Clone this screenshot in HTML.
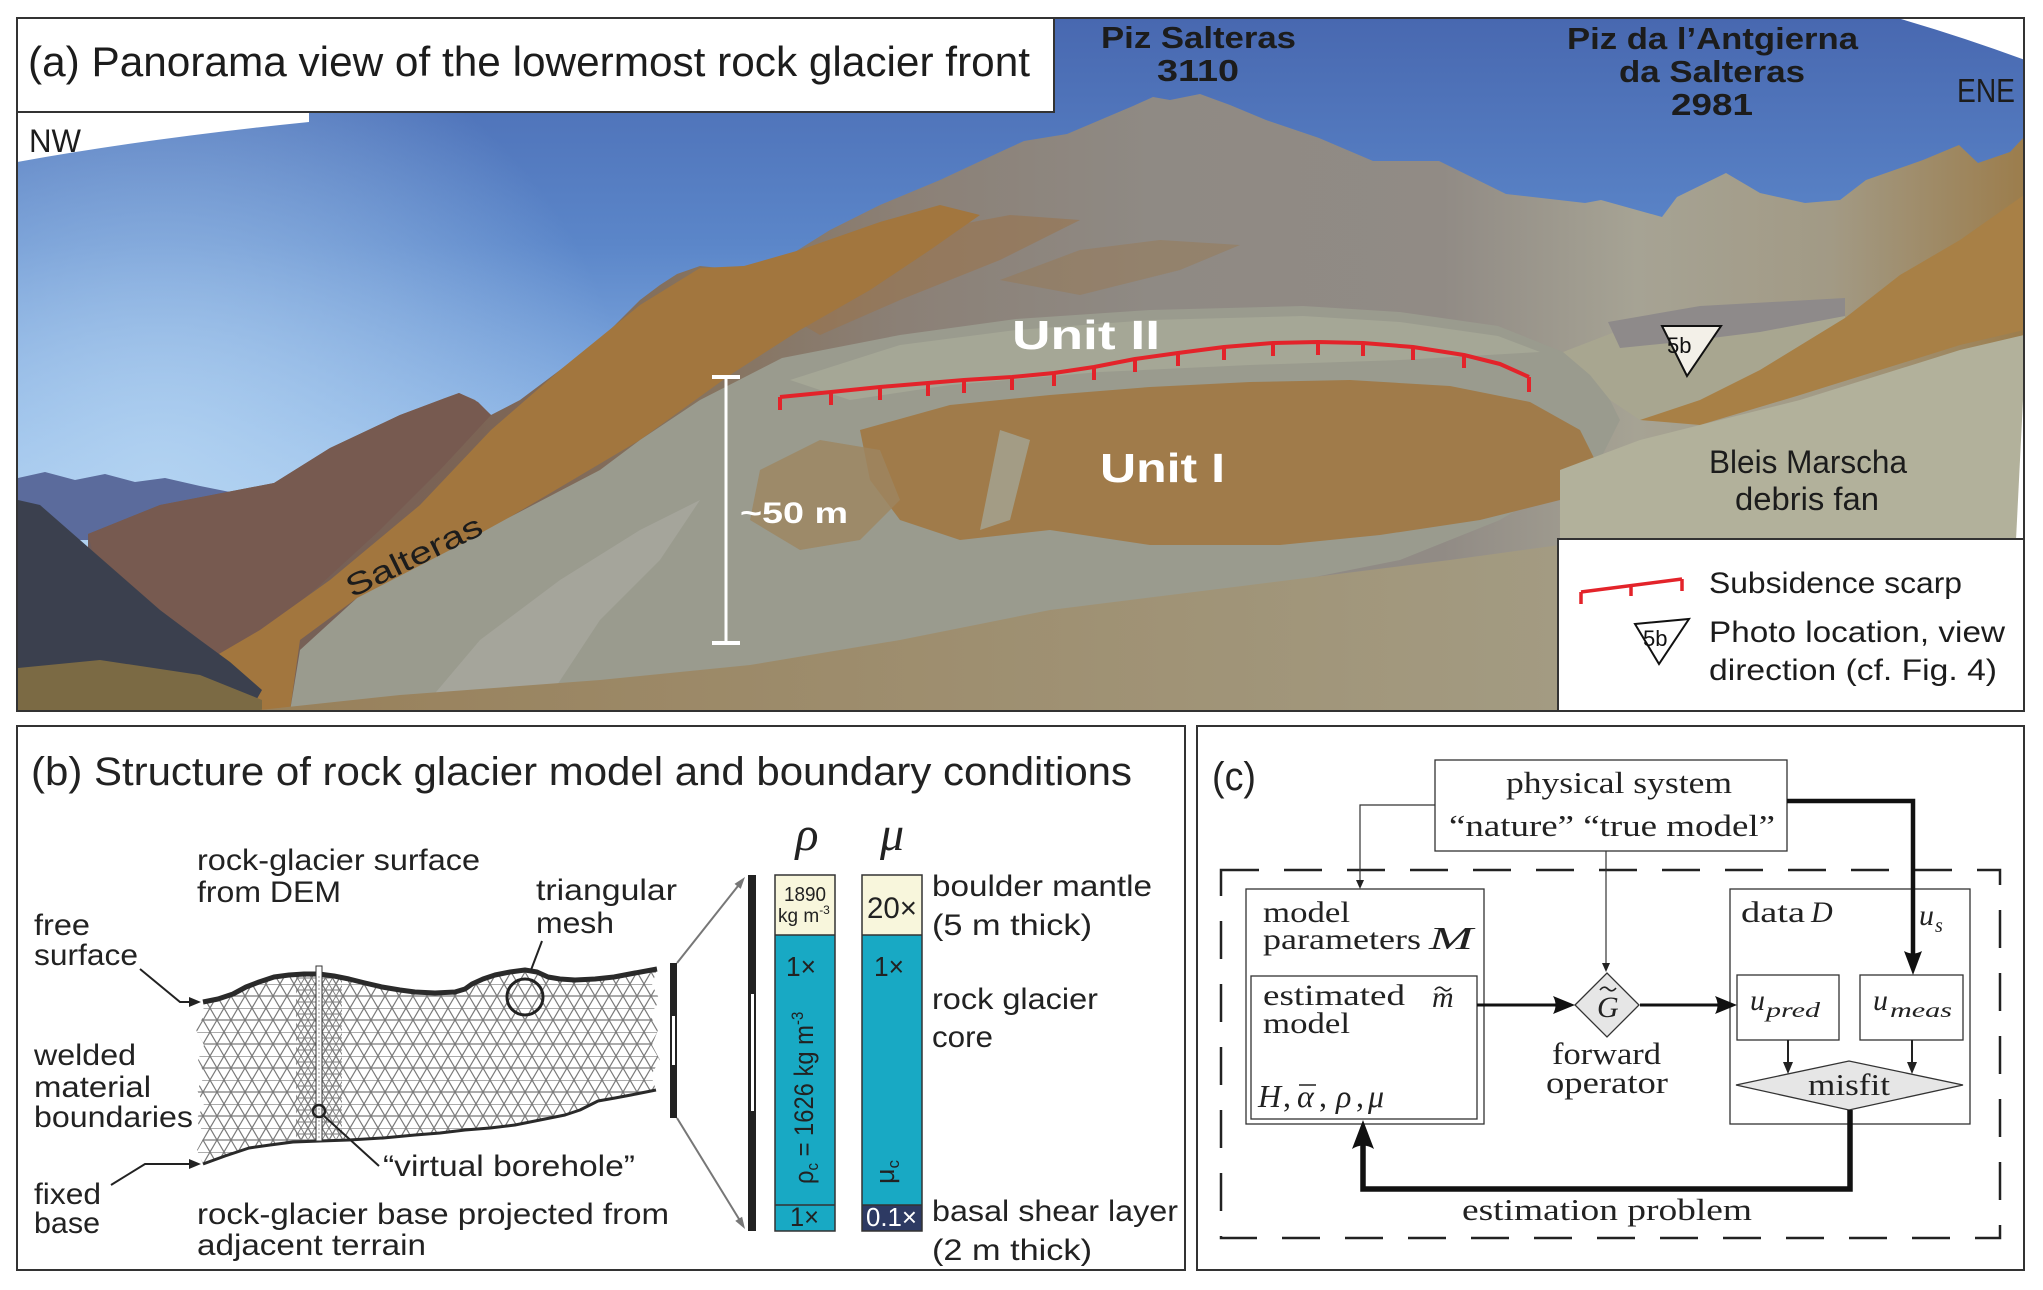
<!DOCTYPE html>
<html><head><meta charset="utf-8"><style>
html,body{margin:0;padding:0;background:#fff;}
svg{display:block;}
.s{font-family:"Liberation Sans",sans-serif;}
.r{font-family:"Liberation Serif",serif;}
</style></head><body>
<svg width="2043" height="1290" viewBox="0 0 2043 1290" xmlns="http://www.w3.org/2000/svg">
<defs>
<clipPath id="ca"><rect x="18" y="18" width="2006" height="693"/></clipPath>
<linearGradient id="sky" x1="0" y1="18" x2="0" y2="520" gradientUnits="userSpaceOnUse">
<stop offset="0" stop-color="#4868b0"/><stop offset="0.45" stop-color="#5b86c9"/><stop offset="0.8" stop-color="#86afe2"/><stop offset="1" stop-color="#a9cbef"/></linearGradient>
<radialGradient id="glow" cx="160" cy="480" r="480" gradientUnits="userSpaceOnUse">
<stop offset="0" stop-color="#b4d4f2" stop-opacity="0.9"/><stop offset="1" stop-color="#b4d4f2" stop-opacity="0"/></radialGradient>
<linearGradient id="massif" x1="88" y1="0" x2="2024" y2="0" gradientUnits="userSpaceOnUse">
<stop offset="0" stop-color="#6e5a58"/><stop offset="0.2" stop-color="#7c6455"/><stop offset="0.32" stop-color="#86735f"/><stop offset="0.42" stop-color="#8b8076"/><stop offset="0.55" stop-color="#8f8a84"/><stop offset="0.7" stop-color="#918b85"/><stop offset="0.8" stop-color="#a6a394"/><stop offset="0.9" stop-color="#a29a85"/><stop offset="1" stop-color="#9c7d4c"/></linearGradient>
<linearGradient id="fg" x1="250" y1="0" x2="1560" y2="0" gradientUnits="userSpaceOnUse">
<stop offset="0" stop-color="#98805a"/><stop offset="1" stop-color="#a39b82"/></linearGradient>
<pattern id="mesh" width="14" height="24" patternUnits="userSpaceOnUse">
<path d="M0 0H14M0 12H14M0 0L7 12L14 0M7 12L0 24M7 12L14 24" stroke="#7a7a7a" stroke-width="1.2" fill="none"/></pattern>
<pattern id="mesh2" width="7" height="12" patternUnits="userSpaceOnUse">
<path d="M0 0H7M0 6H7M0 0L3.5 6L7 0M3.5 6L0 12M3.5 6L7 12" stroke="#7a7a7a" stroke-width="0.9" fill="none"/></pattern>
<clipPath id="cm"><path d="M203,1002 L218,999 L233,994 L246,987 L259,982 L274,977 L289,975 L304,974 L319,974 L334,976 L349,979 L365,983 L382,987 L400,990 L415,992 L435,993 L455,992 L465,989 L472,984 L483,979 L495,975 L510,972 L525,970 L537,972 L548,977 L560,979 L575,980 L595,979 L614,977 L635,973 L657,969 L652,985 L660,1000 L650,1015 L658,1030 L652,1045 L660,1060 L651,1075 L656,1090 L631,1095 L615,1098 L598,1101 L580,1110 L565,1115 L540,1120 L515,1125 L490,1128 L465,1130 L440,1133 L415,1135 L383,1138 L349,1140 L320,1141 L293,1142 L270,1145 L249,1148 L225,1156 L203,1164 L197,1150 L205,1135 L196,1120 L204,1105 L197,1090 L205,1075 L198,1060 L204,1045 L196,1030 L204,1015 Z"/></clipPath>
</defs>

<rect x="0" y="0" width="2043" height="1290" fill="#fff"/>

<!-- ============ PANEL A PHOTO ============ -->
<g clip-path="url(#ca)">
<rect x="18" y="18" width="2006" height="693" fill="url(#sky)"/>
<rect x="18" y="18" width="2006" height="693" fill="url(#glow)"/>
<polygon points="18,478 45,472 75,480 105,474 135,482 165,478 200,486 230,492 230,540 18,540" fill="#5b6b9c"/>
<polygon points="88,534 160,505 274,483 330,448 400,415 445,398 459,393 475,400 491,415 520,400 560,370 600,340 640,300 660,285 677,274 700,266 720,268 744,266 760,275 790,255 830,230 880,205 940,180 1000,152 1024,141 1067,134 1100,120 1133,106 1153,97 1170,100 1200,94 1230,105 1266,120 1319,138 1373,161 1439,161 1506,194 1585,203 1601,200 1662,217 1677,197 1726,173 1760,193 1805,203 1840,200 1866,180 1923,160 1959,145 1978,163 2010,152 2024,137 2024,711 88,711" fill="url(#massif)"/>
<!-- orange streaks on massif -->
<polygon points="760,300 840,260 930,230 1010,215 1080,220 1000,260 900,300 820,335" fill="#9a7348" opacity="0.55"/>
<polygon points="1000,280 1080,250 1160,240 1240,245 1180,270 1080,295" fill="#98784f" opacity="0.45"/>
<polygon points="88,534 160,505 274,483 330,448 400,415 459,393 478,402 491,415 440,470 380,530 320,585 260,635 200,665 140,640 100,580" fill="#775a50"/>
<polygon points="140,711 200,665 260,630 330,580 420,505 491,430 560,370 640,305 700,268 744,266 800,250 880,222 940,205 980,215 930,250 870,290 800,330 730,375 640,440 510,517 400,580 357,598 300,640 290,711" fill="#a2763e"/>
<polygon points="18,500 40,505 80,540 120,575 160,610 200,640 230,662 262,690 250,711 18,711" fill="#3b404e"/>
<polygon points="18,668 100,660 200,675 262,700 262,711 18,711" fill="#7b6a44"/>
<polygon points="290,711 300,650 357,598 450,550 510,517 600,470 640,440 700,400 782,358 900,335 1016,319 1150,310 1303,306 1400,312 1498,326 1563,352 1600,380 1620,420 1600,460 1500,520 1400,560 1200,600 1000,640 800,680 700,711" fill="#9a9b8e"/>
<polygon points="420,711 480,640 560,580 640,530 700,500 660,560 600,620 540,711" fill="#a9aaa1" opacity="0.7"/>
<polygon points="790,380 900,345 1016,330 1150,320 1303,316 1400,322 1498,336 1540,352 1400,360 1250,365 1100,372 950,385 850,400" fill="#a5a796"/>
<polygon points="860,430 950,405 1050,395 1150,387 1250,382 1350,380 1450,386 1530,402 1580,430 1600,470 1560,500 1480,520 1380,535 1280,545 1150,545 1050,530 960,540 900,520 870,480" fill="#a07b4a"/>
<polygon points="760,470 820,440 880,450 900,500 860,540 800,550 750,520" fill="#9e8660" opacity="0.8"/>
<polygon points="1000,430 1030,440 1010,520 980,530" fill="#a4a593" opacity="0.8"/>
<polygon points="1563,352 1620,330 1700,312 1790,303 1845,300 1845,318 1760,370 1700,400 1640,420 1610,400 1590,375" fill="#a8a690"/>
<polygon points="1608,322 1700,306 1845,298 1845,316 1760,332 1680,342 1620,348" fill="#8e8a8a"/>
<polygon points="1640,420 1700,400 1760,370 1845,318 1900,275 1960,240 2024,195 2024,330 1960,345 1880,370 1800,395 1700,425" fill="#a88046"/>
<polygon points="1560,470 1640,440 1720,420 1800,400 1880,375 1960,350 2024,335 2024,711 1560,711" fill="#b2b19b"/>
<polygon points="250,711 400,695 600,680 750,665 900,640 1050,610 1250,585 1450,560 1560,545 1560,711" fill="url(#fg)"/>
<!-- white corners -->
<path d="M17,112 L309,112 L309,122 Q150,138 17,162 Z" fill="#fff"/>
<path d="M1894,17 Q1960,36 2025,60 L2025,17 Z" fill="#fff"/>
<polygon points="2025,360 2016,540 2025,540" fill="#fff"/>
</g>

<!-- scale bar -->
<g stroke="#fff" fill="none">
<line x1="726" y1="377" x2="726" y2="643" stroke-width="3"/>
<line x1="712" y1="377" x2="740" y2="377" stroke-width="4"/>
<line x1="712" y1="643" x2="740" y2="643" stroke-width="4"/>
</g>

<!-- scarp -->
<g stroke="#e3232a" stroke-width="4" fill="none" stroke-linejoin="round" stroke-linecap="butt">
<polyline points="780,397 831,392 880,387 928,383 964,380 1012,377 1054,373 1094,367 1135,359 1178,353 1224,347 1273,343 1318,342 1363,343 1413,347 1464,355 1500,364 1529,377"/>
<path d="M780,397v13M831,392v13M880,387v13M928,383v13M964,380v13M1012,377v13M1054,373v13M1094,367v13M1135,359v13M1178,353v13M1224,347v13M1273,343v13M1318,342v13M1363,343v13M1413,347v13M1464,355v13M1529,377v15"/>
</g>

<!-- 5b marker in photo -->
<polygon points="1662,326 1721,326 1687,376" fill="#f3f0e8" stroke="#111" stroke-width="2"/>
<text x="1667" y="353" class="s" font-size="22" fill="#111">5b</text>

<!-- photo labels -->
<text x="1101" y="48" class="s" font-size="31" font-weight="bold" fill="#1c1c1c" textLength="195" lengthAdjust="spacingAndGlyphs">Piz Salteras</text>
<text x="1157" y="81" class="s" font-size="31" font-weight="bold" fill="#1c1c1c" textLength="82" lengthAdjust="spacingAndGlyphs">3110</text>
<text x="1567" y="49" class="s" font-size="31" font-weight="bold" fill="#1c1c1c" textLength="291" lengthAdjust="spacingAndGlyphs">Piz da l’Antgierna</text>
<text x="1619" y="82" class="s" font-size="31" font-weight="bold" fill="#1c1c1c" textLength="186" lengthAdjust="spacingAndGlyphs">da Salteras</text>
<text x="1671" y="115" class="s" font-size="31" font-weight="bold" fill="#1c1c1c" textLength="82" lengthAdjust="spacingAndGlyphs">2981</text>
<text x="1957" y="102" class="s" font-size="33" fill="#1c1c1c" textLength="58" lengthAdjust="spacingAndGlyphs">ENE</text>
<text x="29" y="152" class="s" font-size="32" fill="#1c1c1c" textLength="52" lengthAdjust="spacingAndGlyphs">NW</text>
<text x="1012" y="349" class="s" font-size="41" font-weight="bold" fill="#fff" textLength="148" lengthAdjust="spacingAndGlyphs">Unit II</text>
<text x="1100" y="482" class="s" font-size="41" font-weight="bold" fill="#fff" textLength="125" lengthAdjust="spacingAndGlyphs">Unit I</text>
<text x="740" y="523" class="s" font-size="30" font-weight="bold" fill="#fff" textLength="108" lengthAdjust="spacingAndGlyphs">~50 m</text>
<text x="0" y="0" class="s" font-size="31" fill="#1c1c1c" textLength="148" lengthAdjust="spacingAndGlyphs" transform="translate(352,598) rotate(-26)">Salteras</text>
<text x="1709" y="473" class="s" font-size="32" fill="#1c1c1c" textLength="198" lengthAdjust="spacingAndGlyphs">Bleis Marscha</text>
<text x="1735" y="510" class="s" font-size="32" fill="#1c1c1c" textLength="144" lengthAdjust="spacingAndGlyphs">debris fan</text>

<!-- panel a frame, title, legend -->
<rect x="17" y="18" width="2007" height="693" fill="none" stroke="#333" stroke-width="2"/>
<rect x="17" y="18" width="1037" height="94" fill="#fff" stroke="#333" stroke-width="2"/>
<text x="28" y="76" class="s" font-size="42" fill="#1c1c1c" textLength="1002" lengthAdjust="spacingAndGlyphs">(a) Panorama view of the lowermost rock glacier front</text>
<rect x="1558" y="539" width="466" height="172" fill="#fff" stroke="#333" stroke-width="2"/>
<g stroke="#e3232a" stroke-width="3.5" fill="none">
<polyline points="1581,592 1682,579"/>
<path d="M1581,592v12M1631,586v10M1682,579v12"/>
</g>
<polygon points="1635,624 1689,619 1659,664" fill="#fff" stroke="#111" stroke-width="2"/>
<text x="1643" y="646" class="s" font-size="22" fill="#111">5b</text>
<text x="1709" y="593" class="s" font-size="30" fill="#1c1c1c" textLength="253" lengthAdjust="spacingAndGlyphs">Subsidence scarp</text>
<text x="1709" y="642" class="s" font-size="30" fill="#1c1c1c" textLength="296" lengthAdjust="spacingAndGlyphs">Photo location, view</text>
<text x="1709" y="680" class="s" font-size="30" fill="#1c1c1c" textLength="288" lengthAdjust="spacingAndGlyphs">direction (cf. Fig. 4)</text>

<!-- ============ PANEL B ============ -->
<rect x="17" y="726" width="1168" height="544" fill="none" stroke="#333" stroke-width="2"/>
<text x="31" y="785" class="s" font-size="40" fill="#222" textLength="1101" lengthAdjust="spacingAndGlyphs">(b) Structure of rock glacier model and boundary conditions</text>

<!-- mesh -->
<g clip-path="url(#cm)">
<rect x="190" y="960" width="480" height="210" fill="#fff"/>
<rect x="190" y="960" width="480" height="210" fill="url(#mesh)"/>
<rect x="296" y="960" width="46" height="210" fill="url(#mesh2)"/>
</g>
<path d="M203,1002 L218,999 L233,994 L246,987 L259,982 L274,977 L289,975 L304,974 L319,974 L334,976 L349,979 L365,983 L382,987 L400,990 L415,992 L435,993 L455,992 L465,989 L472,984 L483,979 L495,975 L510,972 L525,970 L537,972 L548,977 L560,979 L575,980 L595,979 L614,977 L635,973 L657,969" fill="none" stroke="#2a2a2a" stroke-width="5" stroke-linejoin="round"/>
<path d="M656,1090 L631,1095 L615,1098 L598,1101 L580,1110 L565,1115 L540,1120 L515,1125 L490,1128 L465,1130 L440,1133 L415,1135 L383,1138 L349,1140 L320,1141 L293,1142 L270,1145 L249,1148 L225,1156 L203,1164" fill="none" stroke="#2a2a2a" stroke-width="3" stroke-linejoin="round"/>
<rect x="316" y="966" width="6" height="175" fill="#fff" stroke="#333" stroke-width="1"/>
<line x1="319" y1="976" x2="319" y2="1138" stroke="#999" stroke-width="1" stroke-dasharray="2 2"/>
<circle cx="319" cy="1111" r="6" fill="none" stroke="#222" stroke-width="2.5"/>
<line x1="324" y1="1116" x2="379" y2="1166" stroke="#222" stroke-width="2"/>
<circle cx="525" cy="997" r="18" fill="none" stroke="#222" stroke-width="3"/>
<line x1="531" y1="970" x2="542" y2="941" stroke="#222" stroke-width="2"/>
<!-- arrows -->
<polyline points="140,969 180,1002 192,1002" fill="none" stroke="#222" stroke-width="2"/>
<polygon points="189,997 201,1002 189,1007" fill="#222"/>
<polyline points="111,1185 145,1164 192,1164" fill="none" stroke="#222" stroke-width="2"/>
<polygon points="189,1159 201,1164 189,1169" fill="#222"/>

<!-- labels b -->
<g class="s" font-size="30" fill="#222">
<text x="197" y="870" textLength="283" lengthAdjust="spacingAndGlyphs">rock-glacier surface</text>
<text x="197" y="902" textLength="144" lengthAdjust="spacingAndGlyphs">from DEM</text>
<text x="34" y="935" textLength="56" lengthAdjust="spacingAndGlyphs">free</text>
<text x="34" y="965" textLength="104" lengthAdjust="spacingAndGlyphs">surface</text>
<text x="536" y="900" textLength="141" lengthAdjust="spacingAndGlyphs">triangular</text>
<text x="536" y="933" textLength="78" lengthAdjust="spacingAndGlyphs">mesh</text>
<text x="34" y="1065" textLength="102" lengthAdjust="spacingAndGlyphs">welded</text>
<text x="34" y="1097" textLength="117" lengthAdjust="spacingAndGlyphs">material</text>
<text x="34" y="1127" textLength="159" lengthAdjust="spacingAndGlyphs">boundaries</text>
<text x="34" y="1204" textLength="67" lengthAdjust="spacingAndGlyphs">fixed</text>
<text x="34" y="1233" textLength="66" lengthAdjust="spacingAndGlyphs">base</text>
<text x="197" y="1224" textLength="472" lengthAdjust="spacingAndGlyphs">rock-glacier base projected from</text>
<text x="197" y="1255" textLength="229" lengthAdjust="spacingAndGlyphs">adjacent terrain</text>
<text x="383" y="1176" textLength="252" lengthAdjust="spacingAndGlyphs">“virtual borehole”</text>
<text x="932" y="896" textLength="220" lengthAdjust="spacingAndGlyphs">boulder mantle</text>
<text x="932" y="935" textLength="160" lengthAdjust="spacingAndGlyphs">(5 m thick)</text>
<text x="932" y="1009" textLength="166" lengthAdjust="spacingAndGlyphs">rock glacier</text>
<text x="932" y="1047" textLength="61" lengthAdjust="spacingAndGlyphs">core</text>
<text x="932" y="1221" textLength="246" lengthAdjust="spacingAndGlyphs">basal shear layer</text>
<text x="932" y="1260" textLength="160" lengthAdjust="spacingAndGlyphs">(2 m thick)</text>
</g>

<!-- bars -->
<rect x="670" y="963" width="7" height="155" fill="#222"/>
<rect x="672" y="1016" width="3" height="49" fill="#fff"/>
<rect x="748" y="875" width="8" height="356" fill="#222"/>
<rect x="751" y="994" width="3" height="117" fill="#fff"/>
<line x1="677" y1="963" x2="738" y2="886" stroke="#777" stroke-width="2"/>
<polygon points="745,877 740.7,888.9 734.5,883.9" fill="#777"/>
<line x1="677" y1="1118" x2="739" y2="1219" stroke="#777" stroke-width="2"/>
<polygon points="745,1229 742.1,1216.7 735.3,1220.9" fill="#777"/>

<!-- columns -->
<rect x="775" y="875" width="60" height="60" fill="#f8f6dc"/>
<rect x="775" y="935" width="60" height="270" fill="#18a9c4"/>
<rect x="775" y="1205" width="60" height="26" fill="#18a9c4"/>
<rect x="775" y="875" width="60" height="356" fill="none" stroke="#333" stroke-width="1.5"/>
<line x1="775" y1="935" x2="835" y2="935" stroke="#333" stroke-width="1.5"/>
<line x1="775" y1="1205" x2="835" y2="1205" stroke="#333" stroke-width="1.5"/>
<rect x="862" y="875" width="60" height="60" fill="#f8f6dc"/>
<rect x="862" y="935" width="60" height="270" fill="#18a9c4"/>
<rect x="862" y="1205" width="60" height="26" fill="#2d3a63"/>
<rect x="862" y="875" width="60" height="356" fill="none" stroke="#333" stroke-width="1.5"/>
<line x1="862" y1="935" x2="922" y2="935" stroke="#333" stroke-width="1.5"/>
<line x1="862" y1="1205" x2="922" y2="1205" stroke="#333" stroke-width="1.5"/>

<text x="807" y="850" class="r" font-size="48" font-style="italic" fill="#222" text-anchor="middle">ρ</text>
<text x="892" y="850" class="r" font-size="48" font-style="italic" fill="#222" text-anchor="middle">μ</text>
<g class="s" fill="#222">
<text x="805" y="901" font-size="20" text-anchor="middle" textLength="42" lengthAdjust="spacingAndGlyphs">1890</text>
<text x="778" y="922" font-size="19">kg m<tspan font-size="12" dy="-8">-3</tspan></text>
<text x="786" y="976" font-size="28" textLength="30" lengthAdjust="spacingAndGlyphs">1×</text>
<text x="790" y="1226" font-size="27" textLength="29" lengthAdjust="spacingAndGlyphs">1×</text>
<text x="867" y="918" font-size="30" textLength="50" lengthAdjust="spacingAndGlyphs">20×</text>
<text x="874" y="976" font-size="28" textLength="30" lengthAdjust="spacingAndGlyphs">1×</text>
<text x="866" y="1226" font-size="26" fill="#fff" textLength="51" lengthAdjust="spacingAndGlyphs">0.1×</text>
<text transform="translate(813,1184) rotate(-90) scale(0.88,1)" font-size="27">ρ<tspan font-size="17" dy="5">c</tspan><tspan dy="-5"> = 1626 kg m</tspan><tspan font-size="17" dy="-10">-3</tspan></text>
<text transform="translate(894,1184) rotate(-90)" font-size="27">μ<tspan font-size="17" dy="5">c</tspan></text>
</g>

<!-- ============ PANEL C ============ -->
<rect x="1197" y="726" width="827" height="544" fill="none" stroke="#333" stroke-width="2"/>
<text x="1212" y="790" class="s" font-size="40" fill="#222" textLength="44" lengthAdjust="spacingAndGlyphs">(c)</text>

<rect x="1221" y="870" width="779" height="368" fill="none" stroke="#222" stroke-width="2.5" stroke-dasharray="38 25"/>
<rect x="1435" y="760" width="352" height="91" fill="#fff" stroke="#333" stroke-width="1.3"/>
<rect x="1246" y="889" width="238" height="235" fill="#fff" stroke="#333" stroke-width="1.3"/>
<rect x="1251" y="976" width="226" height="143" fill="#fff" stroke="#333" stroke-width="1.3"/>
<rect x="1730" y="889" width="240" height="235" fill="#fff" stroke="#333" stroke-width="1.3"/>
<rect x="1737" y="975" width="102" height="65" fill="#fff" stroke="#333" stroke-width="1.3"/>
<rect x="1860" y="975" width="103" height="65" fill="#fff" stroke="#333" stroke-width="1.3"/>
<polygon points="1575,1005 1607,973 1639,1005 1607,1037" fill="#e6e6e6" stroke="#333" stroke-width="1.3"/>
<polygon points="1736,1085 1849,1061 1963,1085 1849,1110" fill="#e6e6e6" stroke="#333" stroke-width="1.3"/>

<!-- connectors -->
<polyline points="1435,805 1360,805 1360,882" fill="none" stroke="#333" stroke-width="1.2"/>
<polygon points="1356,880 1364,880 1360,889" fill="#222"/>
<line x1="1606" y1="851" x2="1606" y2="966" stroke="#333" stroke-width="1.2"/>
<polygon points="1602,963 1610,963 1606,972" fill="#222"/>
<polyline points="1787,801 1913,801 1913,958" fill="none" stroke="#111" stroke-width="4.5"/>
<path d="M1913,975 L1904,951 Q1913,956 1922,951 Z" fill="#111"/>
<line x1="1477" y1="1005" x2="1560" y2="1005" stroke="#111" stroke-width="3"/>
<path d="M1575,1005 L1553,996 Q1558,1005 1553,1014 Z" fill="#111"/>
<line x1="1640" y1="1005" x2="1722" y2="1005" stroke="#111" stroke-width="3"/>
<path d="M1737,1005 L1715,996 Q1720,1005 1715,1014 Z" fill="#111"/>
<line x1="1788" y1="1040" x2="1788" y2="1064" stroke="#222" stroke-width="2"/>
<polygon points="1783,1062 1793,1062 1788,1074" fill="#222"/>
<line x1="1912" y1="1040" x2="1912" y2="1064" stroke="#222" stroke-width="2"/>
<polygon points="1907,1062 1917,1062 1912,1074" fill="#222"/>
<polyline points="1850,1110 1850,1189 1363,1189 1363,1140" fill="none" stroke="#111" stroke-width="5.5"/>
<path d="M1363,1120 L1352,1149 Q1363,1142 1374,1149 Z" fill="#111"/>

<!-- text c -->
<g class="r" fill="#222">
<text x="1506" y="793" font-size="31" textLength="226" lengthAdjust="spacingAndGlyphs">physical system</text>
<text x="1449" y="836" font-size="31" textLength="326" lengthAdjust="spacingAndGlyphs">“nature” “true model”</text>
<text x="1263" y="922" font-size="30" textLength="87" lengthAdjust="spacingAndGlyphs">model</text>
<text x="1263" y="949" font-size="30" textLength="158" lengthAdjust="spacingAndGlyphs">parameters</text>
<text x="1429" y="949" font-size="32" font-style="italic" textLength="44" lengthAdjust="spacingAndGlyphs">M</text>
<text x="1263" y="1005" font-size="30" textLength="142" lengthAdjust="spacingAndGlyphs">estimated</text>
<text x="1263" y="1033" font-size="30" textLength="87" lengthAdjust="spacingAndGlyphs">model</text>
<text x="1432" y="1007" font-size="30" font-style="italic">m</text>
<text x="1258" y="1107" font-size="32" font-style="italic">H</text>
<text x="1283" y="1107" font-size="32">,</text>
<text x="1297" y="1107" font-size="32" font-style="italic">α</text>
<text x="1319" y="1107" font-size="32">,</text>
<text x="1336" y="1107" font-size="32" font-style="italic">ρ</text>
<text x="1356" y="1107" font-size="32">,</text>
<text x="1368" y="1107" font-size="32" font-style="italic">μ</text>
<text x="1741" y="922" font-size="30" textLength="64" lengthAdjust="spacingAndGlyphs">data</text>
<text x="1811" y="922" font-size="30" font-style="italic">D</text>
<text x="1919" y="925" font-size="30" font-style="italic">u</text>
<text x="1935" y="932" font-size="20" font-style="italic">s</text>
<text x="1750" y="1010" font-size="30" font-style="italic">u</text>
<text x="1766" y="1017" font-size="21" font-style="italic" textLength="54" lengthAdjust="spacingAndGlyphs">pred</text>
<text x="1873" y="1010" font-size="30" font-style="italic">u</text>
<text x="1890" y="1017" font-size="21" font-style="italic" textLength="62" lengthAdjust="spacingAndGlyphs">meas</text>
<text x="1597" y="1017" font-size="30" font-style="italic">G</text>
<text x="1849" y="1095" font-size="31" text-anchor="middle" textLength="82" lengthAdjust="spacingAndGlyphs">misfit</text>
<text x="1552" y="1064" font-size="31" textLength="109" lengthAdjust="spacingAndGlyphs">forward</text>
<text x="1546" y="1093" font-size="31" textLength="122" lengthAdjust="spacingAndGlyphs">operator</text>
<text x="1462" y="1220" font-size="31" textLength="290" lengthAdjust="spacingAndGlyphs">estimation problem</text>
</g>
<g fill="none" stroke="#222" stroke-width="1.6">
<path d="M1435,990 q4,-5 8,-1 t8,-1"/>
<path d="M1600,990 q4,-5 8,-1 t8,-1"/>
<line x1="1299" y1="1085" x2="1316" y2="1085"/>
</g>
</svg>
</body></html>
